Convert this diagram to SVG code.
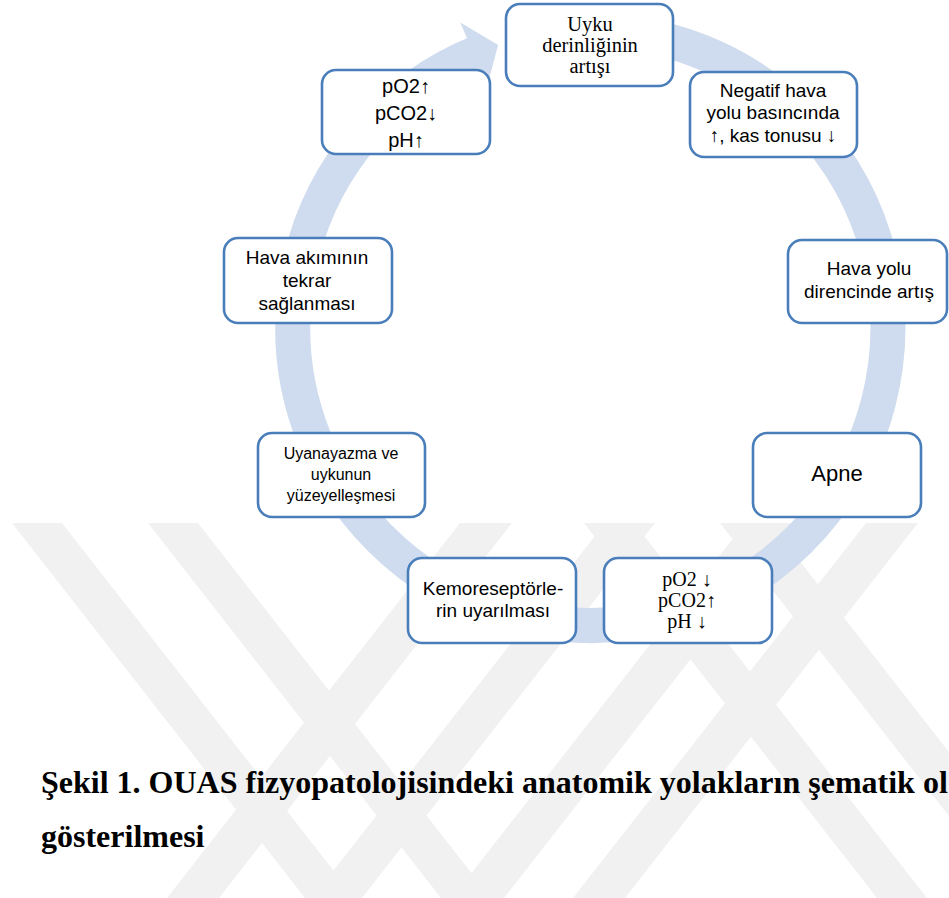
<svg xmlns="http://www.w3.org/2000/svg" width="949" height="898" viewBox="0 0 949 898">
<style>
.wm{fill:#F1F1F1}
.box{fill:#FFFFFF;stroke:#4A7EBB;stroke-width:2.6}
.sans{font-family:"Liberation Sans","DejaVu Sans",sans-serif;fill:#000;text-anchor:middle}
.serif{font-family:"Liberation Serif","DejaVu Serif",serif;fill:#000;text-anchor:middle}
.cap{font-family:"Liberation Serif","DejaVu Serif",serif;font-weight:bold;font-size:32px;fill:#000}
</style>
<rect x="0" y="0" width="949" height="898" fill="#FFFFFF"/>
<g id="watermark">
<polygon class="wm" points="12,523 62,523 355,898 305,898"/>
<polygon class="wm" points="148,523 198,523 491,898 441,898"/>
<polygon class="wm" points="460,523 512,523 219,898 167,898"/>
<polygon class="wm" points="605,523 655,523 362,898 312,898"/>
<polygon class="wm" points="745,523 797,523 504,898 452,898"/>
<polygon class="wm" points="866,523 918,523 625,898 573,898"/>
<polygon class="wm" points="584,523 634,523 927,898 877,898"/>
<polygon class="wm" points="720,523 770,523 1063,898 1013,898"/>
</g>
<g id="connectors">
<path d="M 528.1 37.0 A 297.5 297.5 0 1 1 478.6 52.2" fill="none" stroke="#CFDBEE" stroke-width="35"/>
<polygon points="460.3,22.4 498.1,45.1 487.2,85.9" fill="#CFDBEE"/>
</g>
<g id="n1">
<rect class="box" x="506" y="4" width="167" height="82" rx="14"/>
<text class="serif" font-size="20.5" x="590" y="31">Uyku</text>
<text class="serif" font-size="20.5" x="590" y="52">derinliğinin</text>
<text class="serif" font-size="20.5" x="590" y="73">artışı</text>
</g>
<g id="n2">
<rect class="box" x="690" y="72" width="167" height="85" rx="14"/>
<text class="sans" font-size="19" x="773" y="97">Negatif hava</text>
<text class="sans" font-size="19" x="773" y="119">yolu basıncında</text>
<text class="sans" font-size="19" x="773" y="142">↑, kas tonusu ↓</text>
</g>
<g id="n3">
<rect class="box" x="788" y="240" width="159" height="83" rx="14"/>
<text class="sans" font-size="19" x="869" y="275">Hava yolu</text>
<text class="sans" font-size="19" x="869" y="298">direncinde artış</text>
</g>
<g id="n4">
<rect class="box" x="753" y="433" width="168" height="84" rx="14"/>
<text class="sans" font-size="22" x="837" y="481">Apne</text>
</g>
<g id="n5">
<rect class="box" x="604" y="558" width="168" height="85" rx="14"/>
<text class="serif" font-size="20" x="687" y="586">pO2 ↓</text>
<text class="serif" font-size="20" x="687" y="607">pCO2↑</text>
<text class="serif" font-size="20" x="687" y="628">pH ↓</text>
</g>
<g id="n6">
<rect class="box" x="408" y="558" width="168" height="85" rx="14"/>
<text class="sans" font-size="19" x="493" y="595">Kemoreseptörle-</text>
<text class="sans" font-size="19" x="493" y="617">rin uyarılması</text>
</g>
<g id="n7">
<rect class="box" x="258" y="433" width="167" height="84" rx="14"/>
<text class="sans" font-size="16" x="341" y="459">Uyanayazma ve</text>
<text class="sans" font-size="16" x="341" y="480">uykunun</text>
<text class="sans" font-size="16" x="341" y="501">yüzeyelleşmesi</text>
</g>
<g id="n8">
<rect class="box" x="224" y="238" width="168" height="85" rx="14"/>
<text class="sans" font-size="19" x="307" y="264">Hava akımının</text>
<text class="sans" font-size="19" x="307" y="287">tekrar</text>
<text class="sans" font-size="19" x="307" y="310">sağlanması</text>
</g>
<g id="n9">
<rect class="box" x="322" y="70" width="168" height="84" rx="14"/>
<text class="sans" font-size="20" x="406" y="93">pO2↑</text>
<text class="sans" font-size="20" x="406" y="120">pCO2↓</text>
<text class="sans" font-size="20" x="406" y="147">pH↑</text>
</g>
<g id="caption">
<text class="cap" x="41" y="793">Şekil 1. OUAS fizyopatolojisindeki anatomik yolakların şematik ol</text>
<text class="cap" x="41" y="847">gösterilmesi</text>
</g>
</svg>
